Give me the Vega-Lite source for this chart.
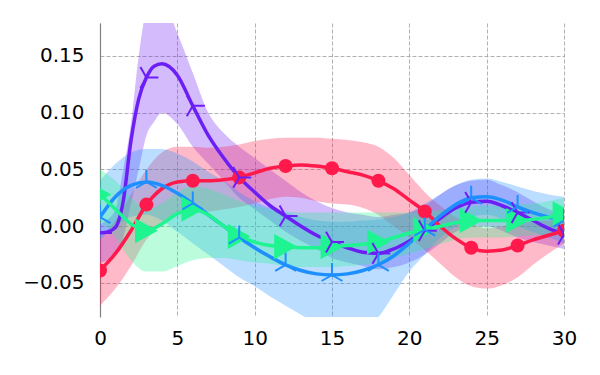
{
  "$schema": "https://vega.github.io/schema/vega-lite/v6.json",
  "width": 464,
  "height": 294,
  "autosize": "none",
  "padding": {"left": 100, "top": 23, "right": 36, "bottom": 58},
  "background": "white",
  "config": {
    "view": {"stroke": null},
    "axis": {"labelFont": "DejaVu Sans", "labelFontSize": 20, "labelColor": "#000000", "grid": true, "gridColor": "#a8a8a8", "gridDash": [4, 2], "gridWidth": 0.9, "ticks": false, "title": null}
  },
  "data": {"values": [
    {"series":"s1","x":0,"m":-0.006,"lo":-0.032,"hi":0.002},
    {"series":"s1","x":0.5,"m":-0.005,"lo":-0.03,"hi":0.006},
    {"series":"s1","x":1,"m":-0.001,"lo":-0.025,"hi":0.015},
    {"series":"s1","x":1.5,"m":0.022,"lo":-0.01,"hi":0.05},
    {"series":"s1","x":2,"m":0.075,"lo":0.02,"hi":0.09},
    {"series":"s1","x":2.5,"m":0.112,"lo":0.05,"hi":0.15},
    {"series":"s1","x":3,"m":0.131,"lo":0.08,"hi":0.19},
    {"series":"s1","x":3.5,"m":0.141,"lo":0.092,"hi":0.2},
    {"series":"s1","x":4,"m":0.143,"lo":0.1,"hi":0.2},
    {"series":"s1","x":5,"m":0.133,"lo":0.09,"hi":0.17},
    {"series":"s1","x":6,"m":0.106,"lo":0.07,"hi":0.135},
    {"series":"s1","x":7,"m":0.08,"lo":0.055,"hi":0.1},
    {"series":"s1","x":8,"m":0.06,"lo":0.04,"hi":0.082},
    {"series":"s1","x":9,"m":0.043,"lo":0.025,"hi":0.07},
    {"series":"s1","x":10,"m":0.03,"lo":0.015,"hi":0.06},
    {"series":"s1","x":11,"m":0.018,"lo":0.005,"hi":0.05},
    {"series":"s1","x":12,"m":0.009,"lo":-0.005,"hi":0.04},
    {"series":"s1","x":13,"m":0.0,"lo":-0.013,"hi":0.03},
    {"series":"s1","x":14,"m":-0.008,"lo":-0.02,"hi":0.022},
    {"series":"s1","x":15,"m":-0.014,"lo":-0.028,"hi":0.016},
    {"series":"s1","x":16,"m":-0.019,"lo":-0.032,"hi":0.012},
    {"series":"s1","x":17,"m":-0.023,"lo":-0.035,"hi":0.01},
    {"series":"s1","x":18,"m":-0.024,"lo":-0.038,"hi":0.008},
    {"series":"s1","x":19,"m":-0.02,"lo":-0.036,"hi":0.01},
    {"series":"s1","x":20,"m":-0.013,"lo":-0.032,"hi":0.012},
    {"series":"s1","x":21,"m":-0.004,"lo":-0.025,"hi":0.018},
    {"series":"s1","x":22,"m":0.007,"lo":-0.015,"hi":0.028},
    {"series":"s1","x":23,"m":0.016,"lo":-0.005,"hi":0.036},
    {"series":"s1","x":24,"m":0.021,"lo":0.0,"hi":0.04},
    {"series":"s1","x":25,"m":0.022,"lo":0.0,"hi":0.041},
    {"series":"s1","x":26,"m":0.018,"lo":-0.004,"hi":0.036},
    {"series":"s1","x":27,"m":0.012,"lo":-0.01,"hi":0.03},
    {"series":"s1","x":28,"m":0.005,"lo":-0.014,"hi":0.022},
    {"series":"s1","x":29,"m":-0.002,"lo":-0.017,"hi":0.015},
    {"series":"s1","x":30,"m":-0.007,"lo":-0.02,"hi":0.01},

    {"series":"s2","x":0,"m":-0.039,"lo":-0.07,"hi":-0.01},
    {"series":"s2","x":1,"m":-0.024,"lo":-0.055,"hi":0.005},
    {"series":"s2","x":2,"m":-0.004,"lo":-0.035,"hi":0.028},
    {"series":"s2","x":3,"m":0.019,"lo":-0.012,"hi":0.05},
    {"series":"s2","x":4,"m":0.033,"lo":0.002,"hi":0.065},
    {"series":"s2","x":5,"m":0.039,"lo":0.01,"hi":0.07},
    {"series":"s2","x":6,"m":0.04,"lo":0.012,"hi":0.07},
    {"series":"s2","x":7,"m":0.04,"lo":0.013,"hi":0.069},
    {"series":"s2","x":8,"m":0.041,"lo":0.015,"hi":0.07},
    {"series":"s2","x":9,"m":0.043,"lo":0.017,"hi":0.072},
    {"series":"s2","x":10,"m":0.047,"lo":0.02,"hi":0.075},
    {"series":"s2","x":11,"m":0.051,"lo":0.024,"hi":0.077},
    {"series":"s2","x":12,"m":0.053,"lo":0.026,"hi":0.078},
    {"series":"s2","x":13,"m":0.054,"lo":0.025,"hi":0.078},
    {"series":"s2","x":14,"m":0.053,"lo":0.022,"hi":0.078},
    {"series":"s2","x":15,"m":0.051,"lo":0.02,"hi":0.077},
    {"series":"s2","x":16,"m":0.048,"lo":0.019,"hi":0.076},
    {"series":"s2","x":17,"m":0.045,"lo":0.016,"hi":0.074},
    {"series":"s2","x":18,"m":0.04,"lo":0.01,"hi":0.07},
    {"series":"s2","x":19,"m":0.033,"lo":0.0,"hi":0.06},
    {"series":"s2","x":20,"m":0.023,"lo":-0.01,"hi":0.045},
    {"series":"s2","x":21,"m":0.013,"lo":-0.021,"hi":0.03},
    {"series":"s2","x":22,"m":0.0,"lo":-0.033,"hi":0.018},
    {"series":"s2","x":23,"m":-0.011,"lo":-0.045,"hi":0.008},
    {"series":"s2","x":24,"m":-0.019,"lo":-0.053,"hi":0.002},
    {"series":"s2","x":25,"m":-0.022,"lo":-0.055,"hi":-0.002},
    {"series":"s2","x":26,"m":-0.021,"lo":-0.052,"hi":0.0},
    {"series":"s2","x":27,"m":-0.017,"lo":-0.045,"hi":0.002},
    {"series":"s2","x":28,"m":-0.012,"lo":-0.034,"hi":0.004},
    {"series":"s2","x":29,"m":-0.008,"lo":-0.024,"hi":0.005},
    {"series":"s2","x":30,"m":-0.004,"lo":-0.015,"hi":0.006},

    {"series":"s3","x":0,"m":0.008,"lo":-0.012,"hi":0.04},
    {"series":"s3","x":1,"m":0.026,"lo":0.0,"hi":0.055},
    {"series":"s3","x":2,"m":0.036,"lo":0.008,"hi":0.065},
    {"series":"s3","x":3,"m":0.039,"lo":0.01,"hi":0.068},
    {"series":"s3","x":4,"m":0.036,"lo":0.005,"hi":0.068},
    {"series":"s3","x":5,"m":0.029,"lo":-0.005,"hi":0.064},
    {"series":"s3","x":6,"m":0.02,"lo":-0.015,"hi":0.057},
    {"series":"s3","x":7,"m":0.01,"lo":-0.025,"hi":0.048},
    {"series":"s3","x":8,"m":0.0,"lo":-0.035,"hi":0.04},
    {"series":"s3","x":9,"m":-0.01,"lo":-0.045,"hi":0.03},
    {"series":"s3","x":10,"m":-0.019,"lo":-0.053,"hi":0.022},
    {"series":"s3","x":11,"m":-0.027,"lo":-0.062,"hi":0.016},
    {"series":"s3","x":12,"m":-0.034,"lo":-0.07,"hi":0.012},
    {"series":"s3","x":13,"m":-0.039,"lo":-0.078,"hi":0.008},
    {"series":"s3","x":14,"m":-0.042,"lo":-0.085,"hi":0.005},
    {"series":"s3","x":15,"m":-0.043,"lo":-0.09,"hi":0.004},
    {"series":"s3","x":16,"m":-0.042,"lo":-0.092,"hi":0.004},
    {"series":"s3","x":17,"m":-0.039,"lo":-0.09,"hi":0.005},
    {"series":"s3","x":18,"m":-0.034,"lo":-0.08,"hi":0.006},
    {"series":"s3","x":19,"m":-0.026,"lo":-0.06,"hi":0.008},
    {"series":"s3","x":20,"m":-0.015,"lo":-0.04,"hi":0.012},
    {"series":"s3","x":21,"m":-0.003,"lo":-0.025,"hi":0.02},
    {"series":"s3","x":22,"m":0.009,"lo":-0.01,"hi":0.028},
    {"series":"s3","x":23,"m":0.019,"lo":0.0,"hi":0.036},
    {"series":"s3","x":24,"m":0.025,"lo":0.008,"hi":0.041},
    {"series":"s3","x":25,"m":0.026,"lo":0.01,"hi":0.042},
    {"series":"s3","x":26,"m":0.023,"lo":0.006,"hi":0.039},
    {"series":"s3","x":27,"m":0.017,"lo":0.0,"hi":0.035},
    {"series":"s3","x":28,"m":0.012,"lo":-0.005,"hi":0.031},
    {"series":"s3","x":29,"m":0.008,"lo":-0.01,"hi":0.028},
    {"series":"s3","x":30,"m":0.005,"lo":-0.015,"hi":0.026},

    {"series":"s4","x":0,"m":0.028,"lo":0.005,"hi":0.05},
    {"series":"s4","x":1,"m":0.015,"lo":-0.01,"hi":0.04},
    {"series":"s4","x":2,"m":0.002,"lo":-0.03,"hi":0.025},
    {"series":"s4","x":3,"m":-0.004,"lo":-0.04,"hi":0.015},
    {"series":"s4","x":4,"m":0.002,"lo":-0.04,"hi":0.02},
    {"series":"s4","x":5,"m":0.011,"lo":-0.035,"hi":0.03},
    {"series":"s4","x":6,"m":0.015,"lo":-0.03,"hi":0.035},
    {"series":"s4","x":7,"m":0.01,"lo":-0.028,"hi":0.033},
    {"series":"s4","x":8,"m":0.0,"lo":-0.028,"hi":0.028},
    {"series":"s4","x":9,"m":-0.009,"lo":-0.03,"hi":0.022},
    {"series":"s4","x":10,"m":-0.014,"lo":-0.032,"hi":0.018},
    {"series":"s4","x":11,"m":-0.017,"lo":-0.033,"hi":0.015},
    {"series":"s4","x":12,"m":-0.018,"lo":-0.035,"hi":0.013},
    {"series":"s4","x":13,"m":-0.019,"lo":-0.036,"hi":0.012},
    {"series":"s4","x":14,"m":-0.019,"lo":-0.036,"hi":0.012},
    {"series":"s4","x":15,"m":-0.018,"lo":-0.036,"hi":0.012},
    {"series":"s4","x":16,"m":-0.017,"lo":-0.035,"hi":0.012},
    {"series":"s4","x":17,"m":-0.016,"lo":-0.034,"hi":0.012},
    {"series":"s4","x":18,"m":-0.014,"lo":-0.032,"hi":0.012},
    {"series":"s4","x":19,"m":-0.01,"lo":-0.028,"hi":0.012},
    {"series":"s4","x":20,"m":-0.006,"lo":-0.024,"hi":0.012},
    {"series":"s4","x":21,"m":-0.003,"lo":-0.02,"hi":0.013},
    {"series":"s4","x":22,"m":0.0,"lo":-0.016,"hi":0.014},
    {"series":"s4","x":23,"m":0.003,"lo":-0.012,"hi":0.016},
    {"series":"s4","x":24,"m":0.005,"lo":-0.01,"hi":0.017},
    {"series":"s4","x":25,"m":0.005,"lo":-0.01,"hi":0.018},
    {"series":"s4","x":26,"m":0.005,"lo":-0.01,"hi":0.018},
    {"series":"s4","x":27,"m":0.005,"lo":-0.009,"hi":0.019},
    {"series":"s4","x":28,"m":0.006,"lo":-0.008,"hi":0.02},
    {"series":"s4","x":29,"m":0.008,"lo":-0.007,"hi":0.022},
    {"series":"s4","x":30,"m":0.011,"lo":-0.005,"hi":0.025}
  ]},
  "encoding": {
    "x": {"field": "x", "type": "quantitative", "scale": {"domain": [0, 30], "nice": false, "zero": false},
      "axis": {"values": [0, 5, 10, 15, 20, 25, 30], "domain": false, "labelPadding": 11, "format": "d", "labelFlush": false}},
    "color": {"field": "series", "type": "nominal", "legend": null,
      "scale": {"domain": ["s1", "s2", "s3", "s4"], "range": ["#6c1ff5", "#ff1a4b", "#1e8fff", "#1ef590"]}}
  },
  "layer": [
    {
      "mark": {"type": "area", "opacity": 0.3, "interpolate": "monotone", "clip": true},
      "encoding": {
        "y": {"field": "lo", "type": "quantitative", "scale": {"domain": [-0.080, 0.179], "nice": false, "zero": false},
          "axis": {"values": [-0.05, 0, 0.05, 0.1, 0.15], "format": ".2f", "domain": true, "domainColor": "#808080", "domainWidth": 1.2, "labelPadding": 16}},
        "y2": {"field": "hi"}
      }
    },
    {
      "mark": {"type": "rule", "color": "#808080", "strokeWidth": 2},
      "encoding": {"y": {"datum": 0}, "color": {"value": "#808080"}}
    },
    {
      "mark": {"type": "line", "strokeWidth": 3.5, "interpolate": "monotone", "clip": true},
      "encoding": {"y": {"field": "m", "type": "quantitative"}, "detail": {"field": "series"}}
    },
    {
      "transform": [{"filter": "datum.series == 's2' && datum.x % 3 == 0"}],
      "mark": {"type": "point", "shape": "circle", "filled": true, "opacity": 1, "size": 196, "clip": true},
      "encoding": {"y": {"field": "m", "type": "quantitative"}}
    },
    {
      "transform": [{"filter": "datum.series == 's4' && datum.x % 3 == 0"}],
      "mark": {"type": "point", "shape": "M-1,-1.1L1,0L-1,1.1Z", "filled": true, "opacity": 1, "size": 520, "clip": true},
      "encoding": {"y": {"field": "m", "type": "quantitative"}}
    },
    {
      "transform": [{"filter": "datum.series == 's1' && datum.x % 3 == 0"}],
      "mark": {"type": "point", "shape": "M0,0L1,0M0,0L-0.5,-0.866M0,0L-0.5,0.866", "filled": false, "opacity": 1, "size": 576, "strokeWidth": 2, "clip": true},
      "encoding": {"y": {"field": "m", "type": "quantitative"}}
    },
    {
      "transform": [{"filter": "datum.series == 's3' && datum.x % 3 == 0"}],
      "mark": {"type": "point", "shape": "M0,0L0,-1M0,0L-0.866,0.5M0,0L0.866,0.5", "filled": false, "opacity": 1, "size": 576, "strokeWidth": 2, "clip": true},
      "encoding": {"y": {"field": "m", "type": "quantitative"}}
    }
  ]
}
